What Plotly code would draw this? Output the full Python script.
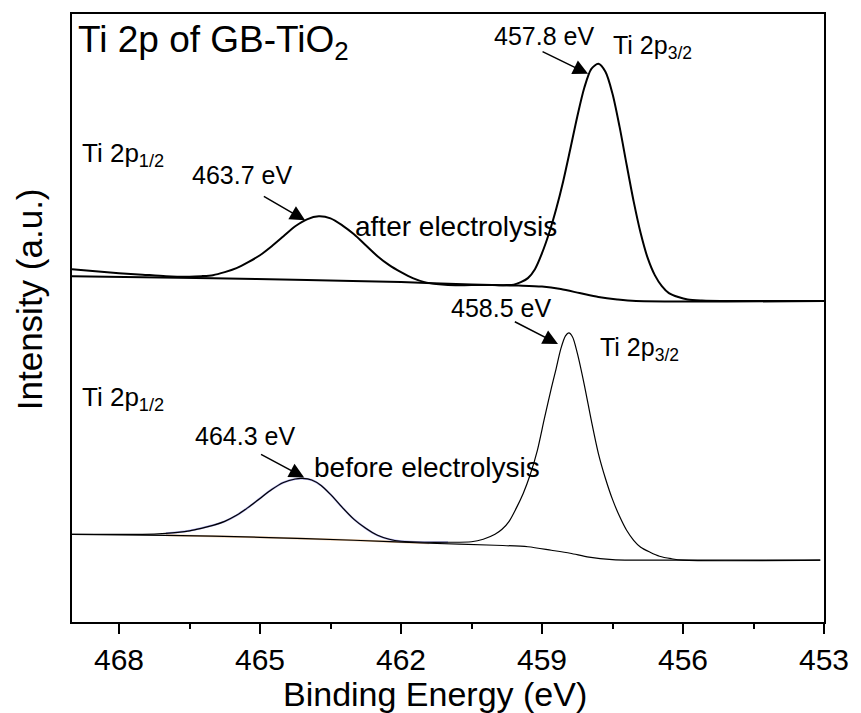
import plotly.graph_objects as go

# ---------------- data ----------------
# Binding energy (eV) and intensity (a.u.; height above the lower frame)
after_E = [469.0, 468.5, 468.0, 467.5, 467.0, 466.5, 466.25, 466.0, 465.75, 465.5,
           465.25, 465.0, 464.75, 464.5, 464.25, 464.0, 463.75, 463.5, 463.25, 463.0,
           462.75, 462.5, 462.25, 462.0, 461.75, 461.5, 461.25, 461.0, 460.5, 460.0,
           459.75, 459.6, 459.45, 459.3, 459.15, 459.0, 458.85, 458.7, 458.55, 458.4,
           458.25, 458.1, 457.95, 457.8, 457.65, 457.5, 457.35, 457.2, 457.05, 456.9,
           456.75, 456.6, 456.45, 456.3, 456.1, 455.9, 455.6, 455.0, 453.0]
after_I = [354, 352, 350, 348.5, 347, 346.5, 347, 348, 351, 355,
           361, 368, 377, 387, 397, 404, 407, 405, 398, 389,
           378, 367, 358, 351, 345, 341, 339, 338, 338, 338,
           338, 338.5, 341, 345, 354, 370, 390, 414, 442, 474,
           507, 536, 555, 560, 552, 530, 497, 459, 422, 390,
           365, 348, 337, 330, 326, 323.5, 322.5, 322, 322]

after_bg_E = [469.0, 466.0, 464.0, 462.0, 460.5, 459.5, 459.0, 458.6, 458.2, 457.8,
              457.4, 457.0, 453.0]
after_bg_I = [347, 345, 343, 341, 338.5, 337.5, 336.5, 334, 330, 326,
              323.5, 322, 322]

before_E = [469.0, 468.0, 467.5, 467.0, 466.75, 466.5, 466.25, 466.0, 465.75, 465.5,
            465.25, 465.0, 464.75, 464.5, 464.25, 464.1, 463.9, 463.7, 463.5, 463.25,
            463.0, 462.75, 462.5, 462.25, 462.0, 461.5, 461.0, 460.5, 460.25, 460.0,
            459.85, 459.7, 459.55, 459.4, 459.25, 459.1, 458.95, 458.8, 458.7, 458.6,
            458.5, 458.43, 458.35, 458.25, 458.1, 457.95, 457.8, 457.65, 457.5, 457.35,
            457.2, 457.05, 456.9, 456.7, 456.5, 456.25, 456.0, 453.08]
before_I = [88, 88, 88, 89, 90, 91.5, 94, 97, 101, 107,
            115, 124, 133, 140, 143.5, 144, 142.5, 137, 128, 115,
            103, 94, 87, 83, 81, 80, 80, 80.5, 83, 88,
            93, 101, 114, 129, 148, 172, 204, 235, 254, 274,
            287, 290, 286, 270, 238, 202, 169, 144, 123, 106,
            92, 82, 75, 70, 66, 63.5, 62, 62]

before_bg_E = [469.0, 467.0, 465.0, 463.0, 461.4, 460.0, 459.3, 458.8, 458.4, 458.0,
               457.5, 457.0, 453.08]
before_bg_I = [88, 87, 85, 82, 79, 77, 75.5, 72, 69, 65,
               62.5, 62, 62]

# fitted 2p1/2 component (before) and its background, faintly coloured under the envelope
comp_E = before_E[3:27]
comp_I = before_I[3:27]
comp_bg_E = before_bg_E[1:5]
comp_bg_I = before_bg_I[1:5]

x_ticks = [468, 465, 462, 459, 456, 453]

# ---------------- layout helpers ----------------
W, H = 861, 713
L, R, T, B = 72, 827, 12, 622


def px(xp, yp):
    return (xp - L) / (R - L), (B - yp) / (B - T)


fig = go.Figure()

fig.add_trace(go.Scatter(x=comp_bg_E, y=comp_bg_I, mode="lines",
                         line=dict(color="rgba(230,160,90,0.55)", width=2, shape="spline"),
                         hoverinfo="skip", showlegend=False))
fig.add_trace(go.Scatter(x=comp_E, y=comp_I, mode="lines",
                         line=dict(color="rgba(90,90,210,0.55)", width=2, shape="spline"),
                         hoverinfo="skip", showlegend=False))

SM = 0.8
fig.add_trace(go.Scatter(x=after_bg_E, y=after_bg_I, mode="lines", name="after background",
                         line=dict(color="black", width=2, shape="spline", smoothing=SM)))
fig.add_trace(go.Scatter(x=after_E, y=after_I, mode="lines", name="after electrolysis",
                         line=dict(color="black", width=2, shape="spline", smoothing=SM)))
fig.add_trace(go.Scatter(x=before_bg_E, y=before_bg_I, mode="lines", name="before background",
                         line=dict(color="black", width=1.2, shape="spline", smoothing=SM)))
fig.add_trace(go.Scatter(x=before_E, y=before_I, mode="lines", name="before electrolysis",
                         line=dict(color="black", width=1.2, shape="spline", smoothing=SM)))

FONT = "Liberation Sans, Arial, sans-serif"

# text labels: (text, pixel x, pixel y, anchor, size, angle)
labels = [
    ("Ti 2p of GB-TiO<sub>2</sub>", 76, 40, "left", 37, 0),
    ("Ti 2p<sub>1/2</sub>", 80, 153, "left", 26, 0),
    ("463.7 eV", 243, 174, "center", 25, 0),
    ("after electrolysis", 354, 225, "left", 28, 0),
    ("457.8 eV", 546, 34, "center", 25, 0),
    ("Ti 2p<sub>3/2</sub>", 613, 45, "left", 25, 0),
    ("458.5 eV", 503, 307, "center", 25, 0),
    ("Ti 2p<sub>3/2</sub>", 600, 348, "left", 25, 0),
    ("Ti 2p<sub>1/2</sub>", 80, 398, "left", 26, 0),
    ("464.3 eV", 246, 435, "center", 25, 0),
    ("before electrolysis", 313, 467, "left", 28, 0),
    ("Binding Energy (eV)", 436, 694, "center", 34, 0),
    ("Intensity (a.u.)", 29, 298, "center", 35, -90),
]
for text, xp, yp, anc, size, ang in labels:
    xx, yy = px(xp, yp)
    fig.add_annotation(x=xx, y=yy, xref="paper", yref="paper", text=text,
                       showarrow=False, xanchor=anc, yanchor="middle", textangle=ang,
                       font=dict(family=FONT, size=size, color="black"))

# arrows: tail (E, I) -> head (E, I)
arrows = [
    ((464.95, 428), (464.04, 403)),
    ((459.02, 573), (458.02, 550)),
    ((459.61, 302), (458.66, 279)),
    ((465.01, 169), (464.06, 145)),
]
for (tE, tI), (hE, hI) in arrows:
    fig.add_annotation(x=hE, y=hI, ax=tE, ay=tI, xref="x", yref="y", axref="x", ayref="y",
                       text="", showarrow=True, arrowhead=2, arrowsize=2,
                       arrowwidth=1.5, arrowcolor="black")

fig.update_xaxes(range=[469, 453], tickvals=x_ticks, ticks="outside", ticklen=10, tickwidth=2,
                 tickcolor="black", showline=True, linecolor="black", linewidth=2, mirror=True,
                 showgrid=False, zeroline=False,
                 minor=dict(ticks="outside", ticklen=5, tickwidth=2, tickcolor="black", dtick=1.5,
                            tick0=453, showgrid=False),
                 tickfont=dict(family=FONT, size=30, color="black"))
fig.update_yaxes(range=[0, 610], showticklabels=False, ticks="", showline=True, linecolor="black",
                 linewidth=2, mirror=True, showgrid=False, zeroline=False)

fig.update_layout(width=W, height=H, margin=dict(l=L, r=W - R, t=T, b=H - B),
                  plot_bgcolor="white", paper_bgcolor="white", showlegend=False)

fig.write_html("out.html")
